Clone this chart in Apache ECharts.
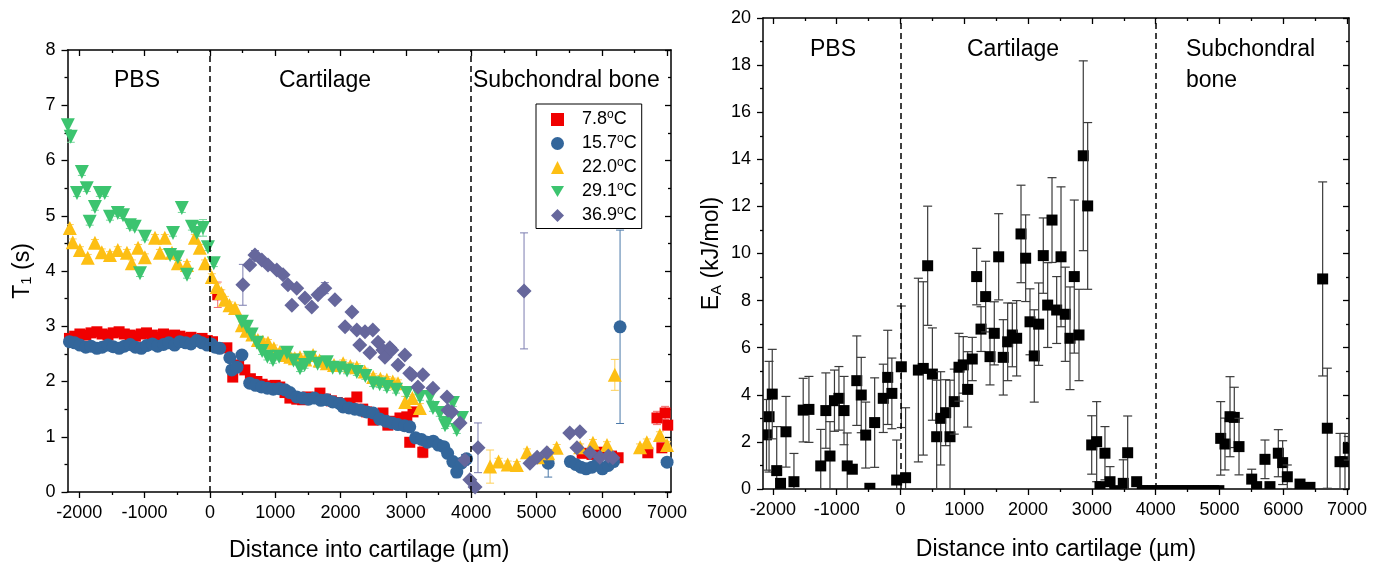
<!DOCTYPE html>
<html><head><meta charset="utf-8">
<script src="https://cdn.jsdelivr.net/npm/echarts@6/dist/echarts.min.js"></script>
<style>html,body{margin:0;padding:0;background:#fff}#c{width:1382px;height:567px}</style>
</head><body><div id="c"></div>
<script>
// ---------------- DATA ----------------
const tempLabels = ['7.8', '15.7', '22.0', '29.1', '36.9'];
const xMajorTicks = [-2000, -1000, 0, 1000, 2000, 3000, 4000, 5000, 6000, 7000];
const xMinorTicks = [-1500, -500, 500, 1500, 2500, 3500, 4500, 5500, 6500];
const regionLabels = ['PBS', 'Cartilage', 'Subchondral bone', 'Subchondral', 'bone'];

const redX = [-2150,-2070,-1990,-1900,-1820,-1730,-1650,-1560,-1480,-1390,-1310,-1220,-1140,-1050,-970,-880,-800,-710,-630,-540,-460,-370,-290,-200,-120,-40,
  40,120,260,350,440,535,620,720,800,900,1000,1070,1150,1225,1330,1420,1500,1580,1685,1770,1860,1950,2050,2145,2250,2340,2400,2500,2590,2650,2725,2800,2910,3015,3060,3110,3260,
  5700,5850,6000,6150,6250,6705,6845,6920,6970,7010];
const redY = [2.78,2.82,2.86,2.84,2.88,2.9,2.86,2.84,2.88,2.9,2.86,2.84,2.82,2.86,2.88,2.84,2.8,2.86,2.82,2.84,2.82,2.78,2.8,2.76,2.78,2.74,
  2.72,3.57,2.61,2.08,2.3,2.21,2.05,2.0,1.95,1.92,1.93,1.9,1.8,1.7,1.68,1.67,1.72,1.7,1.79,1.68,1.65,1.62,1.6,1.61,1.72,1.5,1.45,1.3,1.38,1.43,1.21,1.28,1.34,1.36,0.9,1.45,0.72,
  0.7,0.68,0.72,0.65,0.62,0.71,1.34,0.8,1.43,1.21];
const redErr = [0.06,0.06,0.06,0.06,0.06,0.06,0.06,0.06,0.06,0.06,0.06,0.06,0.06,0.06,0.06,0.06,0.06,0.06,0.06,0.06,0.06,0.06,0.06,0.06,0.06,0.06,
  0.06,0.23,0.06,0.06,0.06,0.06,0.06,0.06,0.06,0.06,0.06,0.06,0.06,0.06,0.06,0.06,0.06,0.06,0.06,0.06,0.06,0.06,0.06,0.06,0.06,0.06,0.06,0.06,0.06,0.06,0.06,0.06,0.06,0.06,0.06,0.06,0.1,
  0.06,0.06,0.06,0.06,0.06,0.06,0.12,0.06,0.12,0.08];

const blueX = [-2150,-2070,-1990,-1900,-1820,-1730,-1650,-1560,-1480,-1390,-1310,-1220,-1140,-1050,-970,-880,-800,-710,-630,-540,-460,-370,-290,-200,-120,-40,
  20,80,150,305,335,415,490,610,700,790,880,970,1060,1150,1225,1330,1420,1510,1600,1700,1790,1880,1990,2040,2130,2220,2310,2400,2500,2600,2700,2790,2880,2980,3060,3150,3240,3330,3420,3500,3580,3640,3720,3780,3850,3930,
  5180,5520,5600,5680,5760,5850,5930,6010,6100,6180,6280,7000];
const blueY = [2.72,2.7,2.66,2.62,2.64,2.6,2.62,2.66,2.63,2.6,2.64,2.67,2.62,2.6,2.65,2.68,2.64,2.67,2.7,2.66,2.72,2.7,2.68,2.74,2.7,2.66,
  2.68,2.62,2.6,2.43,2.21,2.26,2.48,1.97,1.93,1.9,1.88,1.86,1.87,1.85,1.8,1.72,1.7,1.68,1.7,1.66,1.67,1.63,1.6,1.54,1.52,1.5,1.48,1.45,1.43,1.32,1.28,1.25,1.22,1.2,1.18,0.98,0.95,0.9,0.92,0.85,0.82,0.7,0.55,0.36,0.52,0.6,
  0.52,0.55,0.5,0.45,0.42,0.45,0.5,0.42,0.48,0.55,2.99,0.54];
const blueErr = [0.05,0.05,0.05,0.05,0.05,0.05,0.05,0.05,0.05,0.05,0.05,0.05,0.05,0.05,0.05,0.05,0.05,0.05,0.05,0.05,0.05,0.05,0.05,0.05,0.05,0.05,
  0.05,0.05,0.05,0.05,0.05,0.05,0.05,0.05,0.05,0.05,0.05,0.05,0.05,0.05,0.05,0.05,0.05,0.05,0.05,0.05,0.05,0.05,0.05,0.05,0.05,0.05,0.05,0.05,0.05,0.05,0.05,0.05,0.05,0.05,0.05,0.05,0.05,0.05,0.05,0.05,0.05,0.05,0.08,0.1,0.06,0.05,
  0.25,0.05,0.05,0.05,0.05,0.05,0.05,0.05,0.05,0.05,1.75,0.05];

const yellowX = [-2145,-2100,-1990,-1870,-1760,-1655,-1530,-1410,-1270,-1195,-1100,-995,-840,-765,-690,-580,-490,-350,-230,-155,-75,
  30,105,175,230,300,385,490,560,650,735,810,890,980,1070,1150,1230,1300,1380,1460,1580,1680,1790,1900,2040,2150,2250,2370,2500,2610,2710,2800,2880,2990,3100,3215,
  4290,4420,4560,4700,4855,5020,5180,5310,5670,5865,6080,6200,6585,6690,6890,7000];
const yellowY = [4.78,4.52,4.38,4.24,4.51,4.34,4.29,4.38,4.33,4.14,4.42,4.25,4.6,4.33,4.6,4.33,4.14,4.11,4.6,4.42,4.14,
  3.89,3.71,3.6,3.48,3.38,3.33,3.02,2.92,2.85,2.75,2.72,2.7,2.6,2.53,2.48,2.45,2.42,2.44,2.4,2.48,2.38,2.33,2.3,2.33,2.28,2.26,2.18,2.08,2.05,2.03,2.0,1.97,1.63,1.7,1.52,
  0.46,0.55,0.5,0.49,0.72,0.63,0.7,0.8,0.81,0.89,0.85,2.12,0.81,0.9,1.03,0.85];
const yellowErr = [0.06,0.06,0.06,0.06,0.06,0.06,0.06,0.06,0.06,0.06,0.06,0.06,0.06,0.06,0.06,0.06,0.06,0.06,0.06,0.06,0.06,
  0.06,0.06,0.06,0.06,0.06,0.06,0.06,0.06,0.06,0.06,0.06,0.06,0.06,0.06,0.06,0.06,0.06,0.06,0.06,0.06,0.06,0.06,0.06,0.06,0.06,0.06,0.06,0.06,0.06,0.06,0.06,0.06,0.1,0.06,0.08,
  0.3,0.06,0.06,0.06,0.06,0.06,0.06,0.06,0.06,0.06,0.06,0.28,0.06,0.06,0.06,0.06];

const greenX = [-2175,-2130,-2035,-1960,-1885,-1840,-1760,-1685,-1610,-1530,-1410,-1330,-1225,-1150,-1070,-995,-610,-565,-490,-430,-350,-275,-200,-105,-30,
  60,490,565,640,720,800,880,965,1060,1180,1280,1380,1450,1530,1650,1790,1880,1990,2100,2250,2380,2500,2600,2710,2850,3015,3215,3370,3415,3520,3600,3630,3720,3780,3860];
const greenY = [6.64,6.43,5.41,5.79,5.5,4.89,5.16,5.41,5.41,4.98,5.05,5.01,4.83,4.8,3.96,4.62,4.29,4.69,4.25,5.14,3.93,4.8,4.69,4.78,4.43,
  4.14,3.08,2.99,2.85,2.7,2.55,2.45,2.39,2.45,2.52,2.38,2.24,2.3,2.43,2.32,2.35,2.25,2.24,2.2,2.17,2.1,1.97,1.95,1.9,1.85,1.79,1.72,1.72,1.52,1.43,1.21,1.25,1.61,1.12,1.34];
const greenErr = [0.08,0.1,0.06,0.06,0.06,0.06,0.06,0.06,0.06,0.06,0.06,0.06,0.06,0.06,0.06,0.06,0.06,0.06,0.06,0.08,0.06,0.06,0.06,0.15,0.06,
  0.06,0.06,0.06,0.06,0.06,0.06,0.06,0.06,0.06,0.06,0.06,0.06,0.06,0.06,0.06,0.06,0.06,0.06,0.06,0.06,0.06,0.06,0.06,0.06,0.06,0.06,0.06,0.06,0.06,0.06,0.06,0.06,0.06,0.06,0.06];

const purpleX = [505,610,690,795,890,1025,1120,1195,1255,1330,1455,1560,1655,1760,1915,2070,2175,2250,2295,2375,2450,2495,2575,2650,2680,2755,2785,2880,2985,3060,3090,3185,3260,3415,3630,3645,3705,3830,3905,3980,4060,4105,
  4810,4900,5010,5160,5510,5620,5665,5820,5970,6100,6170];
const purpleY = [3.75,4.11,4.29,4.2,4.11,4.02,3.93,3.75,3.38,3.69,3.51,3.35,3.57,3.69,3.48,2.99,3.26,2.93,2.66,2.9,2.52,2.93,2.71,2.57,2.44,2.61,2.57,2.3,2.48,2.15,2.12,1.9,2.12,1.88,1.72,1.48,1.45,1.25,0.58,0.22,0.09,0.8,
  3.64,0.52,0.63,0.71,1.07,0.8,1.09,0.71,0.63,0.65,0.62];
const purpleErr = [0.37,0.05,0.08,0.05,0.05,0.05,0.05,0.05,0.05,0.05,0.05,0.05,0.05,0.1,0.05,0.05,0.05,0.05,0.05,0.05,0.05,0.05,0.05,0.05,0.05,0.05,0.05,0.05,0.05,0.05,0.05,0.05,0.05,0.05,0.05,0.05,0.05,0.05,0.1,0.05,0.05,0.45,
  1.05,0.05,0.05,0.05,0.05,0.05,0.05,0.05,0.05,0.05,0.05];

const eaX = [-2100,-2060,-2010,-1940,-1880,-1795,-1670,-1525,-1435,-1250,-1170,-1105,-1035,-965,-885,-835,-755,-685,-615,-545,-480,-405,-270,-200,-135,-60,13,80,
  280,357,426,500,567,630,708,776,843,917,984,1053,1125,1194,1262,1335,1403,1470,1539,1611,1680,1753,1821,1889,1962,2030,2097,2166,2238,2307,2375,2448,2516,2583,2657,2724,2798,2865,2934,
  2997,3075,3127,3205,3284,3360,3492,3561,3702,3790,3870,3950,4030,4110,4190,4270,4350,4430,4510,4590,4670,4750,4830,4910,4990,
  5019,5086,5165,5232,5306,5505,5583,5713,5791,5922,5990,6063,6262,6418,6617,6690,6889,6967,7019];
const eaY = [2.3,3.07,4.03,0.78,0.24,2.43,0.31,3.35,3.38,0.98,3.33,1.4,3.75,3.85,3.33,0.98,0.84,4.6,3.99,2.29,0.03,2.82,3.85,4.74,4.06,0.38,5.19,0.48,
  5.05,5.12,9.48,4.88,2.22,3.0,3.24,2.22,3.71,5.17,5.27,4.23,5.52,9.02,6.79,8.17,5.62,6.61,9.86,5.59,6.25,6.54,6.4,10.83,9.8,7.1,5.65,7.0,9.91,7.81,11.42,7.6,9.86,7.42,6.4,9.02,6.54,14.15,12.02,
  1.87,2.01,0.1,1.52,0.31,-0.07,0.24,1.54,0.31,-0.07,-0.07,-0.07,-0.07,-0.07,-0.07,-0.07,-0.07,-0.07,-0.07,-0.07,-0.07,-0.07,-0.07,-0.07,-0.07,
  2.15,1.91,3.07,3.04,1.8,0.42,0.1,1.26,0.1,1.52,1.12,0.52,0.21,0.07,8.92,2.58,1.16,1.16,1.73];
const eaErr = [1.5,2.35,1.9,1.87,0,1.5,1.2,1.35,1.4,1.55,1.6,1.46,1.3,1.35,1.45,1.4,0,1.9,1.6,1.4,0,1.9,1.45,2.0,1.5,1.7,2.58,2.97,
  3.9,3.68,2.53,1.96,2.4,1.98,1.4,2.4,1.38,1.44,1.2,1.6,0.92,1.2,0.95,1.5,1.2,1.34,1.83,1.6,1.65,1.35,1.6,2.07,1.84,1.4,1.96,1.75,1.6,1.8,1.8,1.42,2.97,2.0,2.18,3.25,1.94,4.03,3.54,
  1.24,1.7,0,1.13,0.64,0,1.0,1.56,0,0,0,0,0,0,0,0,0,0,0,0,0,0,0,0,0,
  1.56,1.1,1.7,1.28,1.2,0.42,0,0.82,0,1.0,0.93,0.5,0,0,4.12,2.55,1.2,1.2,0.5];

// ---------------- CHART ----------------
const FONT = '"Liberation Sans", Arial, Helvetica, sans-serif';
const colors = ['#f00000', '#33669b', '#fdbf14', '#3cc46f', '#66679c'];
const errColors = ['#f26a6a', '#4a78a8', '#fdd15a', '#72d698', '#7c7db0'];
const seriesNames = tempLabels.map(t => t + '°C');
const chart = echarts.init(document.getElementById('c'));

const axisLineStyle = { color: '#000', width: 1.5 };
const tickStyle = { color: '#000', width: 1.3 };
const plainNum = v => String(v);

function xAxes(grid, min, max, name, nameGap) {
  const base = { type: 'value', gridIndex: grid, min: min, max: max, splitLine: { show: false }, silent: true };
  return [
    Object.assign({}, base, {
      position: 'bottom',
      axisLine: { show: true, onZero: false, lineStyle: axisLineStyle },
      axisTick: { show: true, inside: false, length: 6, customValues: xMajorTicks, lineStyle: tickStyle },
      axisLabel: { show: true, customValues: xMajorTicks, formatter: plainNum, margin: 12, fontSize: 18, color: '#000', fontFamily: FONT },
      name: name, nameLocation: 'middle', nameGap: nameGap,
      nameTextStyle: { fontSize: 23, color: '#000', fontFamily: FONT }
    }),
    Object.assign({}, base, {
      position: 'bottom',
      axisLine: { show: false, onZero: false },
      axisTick: { show: true, inside: false, length: 3, customValues: xMinorTicks, lineStyle: tickStyle },
      axisLabel: { show: false }
    }),
    Object.assign({}, base, {
      position: 'top',
      axisLine: { show: true, onZero: false, lineStyle: axisLineStyle },
      axisTick: { show: true, inside: true, length: 6, customValues: xMajorTicks, lineStyle: tickStyle },
      axisLabel: { show: false }
    }),
    Object.assign({}, base, {
      position: 'top',
      axisLine: { show: false, onZero: false },
      axisTick: { show: true, inside: true, length: 3, customValues: xMinorTicks, lineStyle: tickStyle },
      axisLabel: { show: false }
    })
  ];
}

function yAxes(grid, max, interval, name, nameGap) {
  const base = { type: 'value', gridIndex: grid, min: 0, max: max, interval: interval, splitLine: { show: false }, silent: true };
  return [
    Object.assign({}, base, {
      position: 'left',
      axisLine: { show: true, onZero: false, lineStyle: axisLineStyle },
      axisTick: { show: true, inside: false, length: 6, lineStyle: tickStyle },
      minorTick: { show: true, splitNumber: 2, length: 3, lineStyle: tickStyle },
      axisLabel: { show: true, formatter: plainNum, margin: 12, fontSize: 18, color: '#000', fontFamily: FONT },
      name: name, nameLocation: 'middle', nameGap: nameGap,
      nameTextStyle: { fontSize: 23, color: '#000', fontFamily: FONT,
        rich: { sub: { fontSize: 15, fontFamily: FONT, color: '#000', padding: [9, 0, 0, 0] } } }
    }),
    Object.assign({}, base, {
      position: 'right',
      axisLine: { show: true, onZero: false, lineStyle: axisLineStyle },
      axisTick: { show: true, inside: true, length: 6, lineStyle: tickStyle },
      minorTick: { show: true, splitNumber: 2, length: 3, lineStyle: tickStyle },
      axisLabel: { show: false }
    })
  ];
}

function errSeries(xs, ys, es, color) {
  return {
    type: 'custom', xAxisIndex: 0, yAxisIndex: 0, clip: true, silent: true, z: 1,
    data: xs.map((x, i) => [x, ys[i], es[i]]),
    renderItem: function (params, api) {
      const x = api.value(0), y = api.value(1), e = api.value(2);
      if (!(e > 0)) return null;
      const t = api.coord([x, y + e]), b = api.coord([x, y - e]);
      const w = 4;
      const st = { stroke: color, lineWidth: 1 };
      return { type: 'group', children: [
        { type: 'line', shape: { x1: t[0], y1: t[1], x2: b[0], y2: b[1] }, style: st },
        { type: 'line', shape: { x1: t[0] - w, y1: t[1], x2: t[0] + w, y2: t[1] }, style: st },
        { type: 'line', shape: { x1: b[0] - w, y1: b[1], x2: b[0] + w, y2: b[1] }, style: st }
      ] };
    }
  };
}

const dashLine = {
  silent: true, symbol: ['none', 'none'], label: { show: false }, animation: false,
  lineStyle: { color: '#000', type: [6, 4], width: 1.5 },
  emphasis: { disabled: true },
  data: [{ xAxis: 0 }, { xAxis: 4000 }]
};

const leftSets = [
  [redX, redY, redErr, 'rect', 11, 0],
  [blueX, blueY, blueErr, 'circle', 13, 0],
  [yellowX, yellowY, yellowErr, 'triangle', 14, 0],
  [greenX, greenY, greenErr, 'triangle', 14, 180],
  [purpleX, purpleY, purpleErr, 'diamond', 15, 0]
];

const series = [];
leftSets.forEach((s, i) => series.push(errSeries(s[0], s[1], s[2], errColors[i])));
leftSets.forEach((s, i) => series.push({
  type: 'scatter', name: seriesNames[i], xAxisIndex: 0, yAxisIndex: 0, z: 2,
  symbol: s[3], symbolSize: s[4], symbolRotate: s[5],
  itemStyle: { color: colors[i], opacity: 1 },
  data: s[0].map((x, k) => [x, s[1][k]])
}));
series.push({ type: 'scatter', name: 'dashL', xAxisIndex: 0, yAxisIndex: 0, data: [], markLine: dashLine });

series.push({
  type: 'custom', xAxisIndex: 4, yAxisIndex: 2, clip: true, silent: true, z: 2,
  data: eaX.map((x, i) => [x, eaY[i], eaErr[i]]),
  renderItem: function (params, api) {
    const x = api.value(0), y = api.value(1), e = api.value(2);
    const c = api.coord([x, y]);
    const ch = [];
    if (e > 0) {
      const t = api.coord([x, y + e]), b = api.coord([x, y - e]);
      const w = 4.5, st = { stroke: '#3a3a3a', lineWidth: 1.2 };
      ch.push({ type: 'line', shape: { x1: c[0], y1: t[1], x2: c[0], y2: b[1] }, style: st });
      ch.push({ type: 'line', shape: { x1: c[0] - w, y1: t[1], x2: c[0] + w, y2: t[1] }, style: st });
      ch.push({ type: 'line', shape: { x1: c[0] - w, y1: b[1], x2: c[0] + w, y2: b[1] }, style: st });
    }
    ch.push({ type: 'rect', shape: { x: c[0] - 5.5, y: c[1] - 5.5, width: 11, height: 11 }, style: { fill: '#000' } });
    return { type: 'group', children: ch };
  }
});
series.push({ type: 'scatter', name: 'dashR', xAxisIndex: 4, yAxisIndex: 2, data: [], markLine: dashLine });

function txt(s, x, y, align) {
  return { type: 'text', x: x, y: y, silent: true,
    style: { text: s, font: '23px ' + FONT, fill: '#000', textAlign: align, textVerticalAlign: 'middle', align: align, verticalAlign: 'middle' } };
}

const legendData = seriesNames.map((n, i) => i === 3
  ? { name: n, icon: 'path://M0,0L20,0L10,17.3Z' }
  : { name: n });

const option = {
  animation: false,
  backgroundColor: '#fff',
  grid: [
    { left: 67.5, right: 711, top: 50, bottom: 75 },
    { left: 763, right: 33, top: 18, bottom: 78 }
  ],
  xAxis: xAxes(0, -2180, 7060, 'Distance into cartilage (µm)', 47).concat(xAxes(1, -2155, 7030, 'Distance into cartilage (µm)', 49)),
  yAxis: yAxes(0, 8, 1, 'T{sub|1} (s)', 33).concat(yAxes(1, 20, 2, 'E{sub|A} (kJ/mol)', 39)),
  legend: {
    show: true, orient: 'vertical', left: 536, top: 104,
    data: legendData, padding: [5, 5, 3, 15], itemGap: 3.5, itemWidth: 13, itemHeight: 13,
    borderColor: '#000', borderWidth: 1, borderRadius: 0, backgroundColor: '#fff',
    selectedMode: false,
    textStyle: { fontSize: 18, color: '#000', fontFamily: FONT, lineHeight: 20,
      rich: {
        a: { fontSize: 18, fontFamily: FONT, color: '#000', padding: [0, 0, 0, 13], lineHeight: 20 },
        sup: { fontSize: 12, fontFamily: FONT, color: '#000', padding: [0, 0, 9, 0] },
        b: { fontSize: 18, fontFamily: FONT, color: '#000', lineHeight: 20 }
      } },
    formatter: function (n) { const i = seriesNames.indexOf(n); return '{a|' + tempLabels[i] + '}{sup|o}{b|C}'; }
  },
  graphic: [
    txt(regionLabels[0], 137, 81, 'center'),
    txt(regionLabels[1], 325, 81, 'center'),
    txt(regionLabels[2], 473, 81, 'left'),
    txt(regionLabels[0], 833, 50, 'center'),
    txt(regionLabels[1], 1013, 50, 'center'),
    txt(regionLabels[3], 1186, 50, 'left'),
    txt(regionLabels[4], 1186, 81, 'left')
  ],
  series: series
};
chart.setOption(option);
</script>
</body></html>
